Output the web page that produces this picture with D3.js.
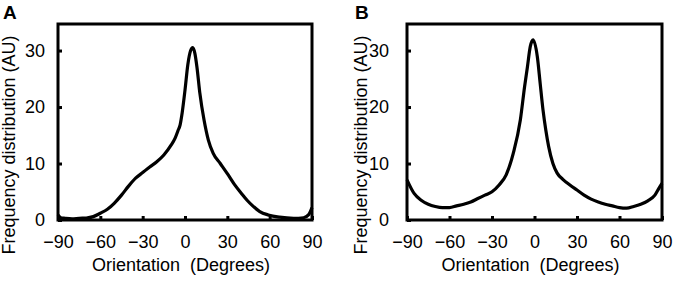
<!DOCTYPE html>
<html lang="en">
<head>
    <meta charset="UTF-8">
    <title>Orientation distributions</title>
    <script src="https://d3js.org/d3.v7.min.js"></script>
    <style>
        body {
            margin: 0;
            padding: 0;
            background-color: white;
        }
        svg text {
            font-family: "Liberation Sans", Arial, sans-serif;
            fill: #000;
        }
    </style>
</head>
<body>
    <div id="chart"></div>

    <script>
        // Orientation in degrees
        const degA = [-90, -88, -85, -80, -75, -70, -65, -60, -55, -50, -45, -40, -35, -30, -25, -20, -15, -10, -7, -5, -3.5, -2, 0, 2, 4, 5.5, 7, 8.5, 10.5, 13.5, 16.5, 20, 25, 30, 35, 40, 44, 48, 53, 59, 67, 77, 84, 87.5, 90];
        const freqA = [0.9, 0.4, 0.3, 0.2, 0.3, 0.35, 0.6, 1.2, 1.9, 3.0, 4.4, 6.0, 7.4, 8.4, 9.4, 10.3, 11.5, 13.2, 14.5, 15.8, 16.8, 19.0, 23.0, 27.5, 30.0, 30.5, 29.5, 27.0, 22.5, 17.7, 14.2, 11.8, 10.0, 8.2, 6.3, 4.7, 3.5, 2.5, 1.5, 0.9, 0.5, 0.3, 0.4, 0.9, 2.2];

        const degB = [-90, -85, -80, -75, -70, -65, -60, -55, -50, -45, -40, -35, -30, -25, -20, -15, -10, -7, -5, -3, -1, 2, 4, 6, 8, 10, 13, 16, 20, 25, 30, 35, 40, 45, 50, 55, 60, 65, 70, 75, 80, 85, 88, 90];
        const freqB = [7.1, 4.7, 3.5, 2.8, 2.4, 2.2, 2.2, 2.5, 2.8, 3.2, 3.8, 4.4, 5.0, 6.2, 8.0, 11.8, 17.7, 23.6, 27.1, 30.7, 31.9, 28.9, 24.2, 19.5, 15.9, 13.0, 10.0, 8.3, 7.2, 6.2, 5.3, 4.4, 3.7, 3.2, 2.8, 2.5, 2.2, 2.1, 2.4, 2.8, 3.4, 4.4, 5.7, 6.5];

        const xTicks = [-90, -60, -30, 0, 30, 60, 90];
        const yTicks = [0, 10, 20, 30];

        const width = 674;
        const height = 281;

        const svg = d3.select("#chart")
            .append("svg")
            .attr("width", width)
            .attr("height", height);

        const panels = [
            { label: "A", deg: degA, freq: freqA, left: 58, right: 312, letterX: 3, yPad: 13 },
            { label: "B", deg: degB, freq: freqB, left: 407, right: 662, letterX: 355, yPad: 18 }
        ];

        const plotTop = 24, plotBottom = 220;

        panels.forEach(p => {
            const x = d3.scaleLinear().domain([-90, 90]).range([p.left, p.right]);
            const y = d3.scaleLinear().domain([0, 34.7]).range([plotBottom, plotTop]);

            const g = svg.append("g");

            // bottom axis, ticks pointing inward
            const xAxis = g.append("g")
                .attr("transform", `translate(0,${plotBottom})`)
                .call(d3.axisBottom(x).tickValues(xTicks).tickSize(-4).tickPadding(15));
            xAxis.select(".domain").remove();
            xAxis.selectAll(".tick line").attr("stroke", "#000").attr("stroke-width", 3);
            xAxis.selectAll("text").style("font-size", "18px").attr("fill", "#000");

            const yAxis = g.append("g")
                .attr("transform", `translate(${p.left},0)`)
                .call(d3.axisLeft(y).tickValues(yTicks).tickSize(-4).tickPadding(p.yPad));
            yAxis.select(".domain").remove();
            yAxis.selectAll(".tick line").attr("stroke", "#000").attr("stroke-width", 3);
            yAxis.selectAll("text").style("font-size", "18px").attr("fill", "#000");

            // frame
            g.append("rect")
                .attr("x", p.left)
                .attr("y", plotTop)
                .attr("width", p.right - p.left)
                .attr("height", plotBottom - plotTop)
                .attr("fill", "none")
                .attr("stroke", "#000")
                .attr("stroke-width", 3);

            const pts = p.deg.map((d, i) => [d, p.freq[i]]);
            const line = d3.line()
                .x(d => x(d[0]))
                .y(d => y(d[1]))
                .curve(d3.curveMonotoneX);

            g.append("path")
                .datum(pts)
                .attr("d", line)
                .attr("fill", "none")
                .attr("stroke", "#000")
                .attr("stroke-width", 3.2)
                .attr("stroke-linejoin", "round");

            // axis titles
            g.append("text")
                .attr("x", (p.left + p.right) / 2 - 4)
                .attr("y", 271)
                .attr("text-anchor", "middle")
                .style("font-size", "18px")
                .style("white-space", "pre")
                .text("Orientation  (Degrees)");

            g.append("text")
                .attr("transform", `translate(${p.letterX + 12},145) rotate(-90)`)
                .attr("text-anchor", "middle")
                .style("font-size", "18px")
                .text("Frequency distribution (AU)");

            g.append("text")
                .attr("x", p.letterX)
                .attr("y", 19)
                .style("font-size", "19px")
                .style("font-weight", "bold")
                .text(p.label);
        });
    </script>
</body>
</html>
